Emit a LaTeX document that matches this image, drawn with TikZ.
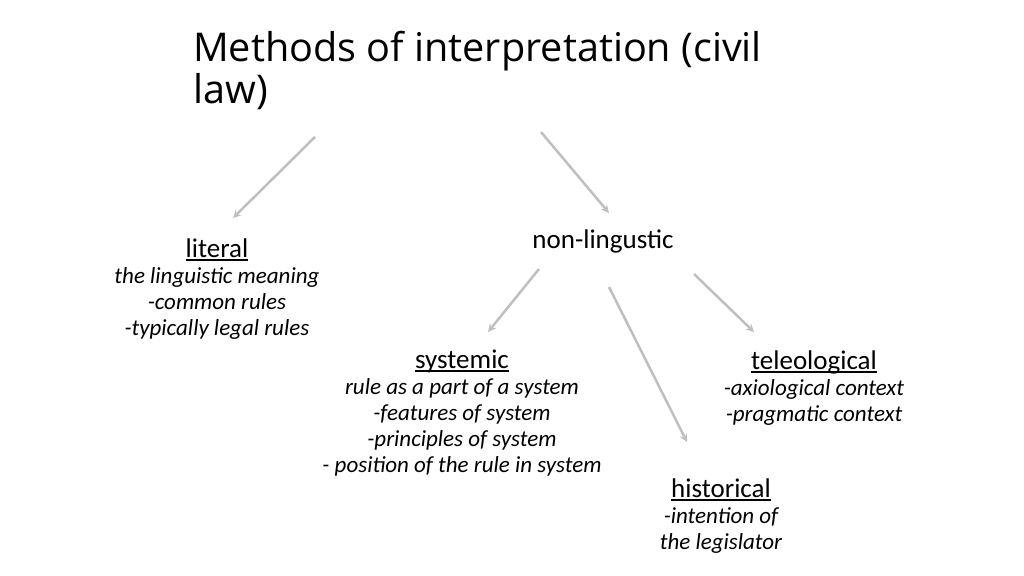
\documentclass[tikz,border=0pt]{standalone}
\usepackage{fontspec}
\setmainfont{Carlito}
\newfontfamily\titlefont{Open Sans}
\usetikzlibrary{positioning}
\definecolor{arrowgray}{HTML}{BFBFBF}
\newcommand{\uhead}[1]{\setbox0\hbox{#1}\rlap{\rule[-4pt]{\wd0}{1.8pt}}\box0}

\tikzstyle{method} = [align=center, anchor=base, inner sep=0pt, font=\fontsize{23}{26}\selectfont\itshape]
\tikzstyle{head} = [align=center, anchor=base, inner sep=0pt, font=\fontsize{27}{26}\selectfont]
\tikzstyle{arrow} = [line width=2.5pt,->,>=stealth,draw=arrowgray]

\begin{document}
\begin{tikzpicture}[x=1pt,y=-1pt]
	\useasboundingbox (0,0) rectangle (1024,575);
	% base of a multi-line node is its last line
	\node (title) [anchor=base west, align=left, inner sep=0pt, font=\titlefont\fontsize{39.6}{42}\selectfont] at (193,104) {Methods of interpretation (civil\\law)};

	\node (literal) [method] at (217,335) {{\fontsize{27}{26}\selectfont\upshape\uhead{literal}}\\the linguistic meaning\\-common rules\\-typically legal rules};
	\node (nonling) [head] at (603,248) {non-lingustic};
	\node (systemic) [method] at (462,472) {{\fontsize{27}{26}\selectfont\upshape\uhead{systemic}}\\rule as a part of a system\\-features of system\\-principles of system\\- position of the rule in system};
	\node (teleo) [method] at (814,421) {{\fontsize{27}{26}\selectfont\upshape\uhead{teleological}}\\-axiological context\\-pragmatic context};
	\node (historical) [method] at (721,549) {{\fontsize{27}{26}\selectfont\upshape\uhead{historical}}\\-intention of\\the legislator};

	% arrow ends
	\coordinate (title-l) at (315,137);
	\coordinate (title-r) at (541,132);
	\coordinate (literal-in) at (233,218);
	\coordinate (nonling-in) at (609,213);
	\coordinate (nonling-l) at (539,269);
	\coordinate (nonling-m) at (609,287);
	\coordinate (nonling-r) at (694,274);
	\coordinate (systemic-in) at (488,332);
	\coordinate (historical-in) at (687,442);
	\coordinate (teleo-in) at (754,332);

	\draw [arrow] (title-l) -- (literal-in);
	\draw [arrow] (title-r) -- (nonling-in);
	\draw [arrow] (nonling-l) -- (systemic-in);
	\draw [arrow] (nonling-m) -- (historical-in);
	\draw [arrow] (nonling-r) -- (teleo-in);
\end{tikzpicture}
\end{document}
